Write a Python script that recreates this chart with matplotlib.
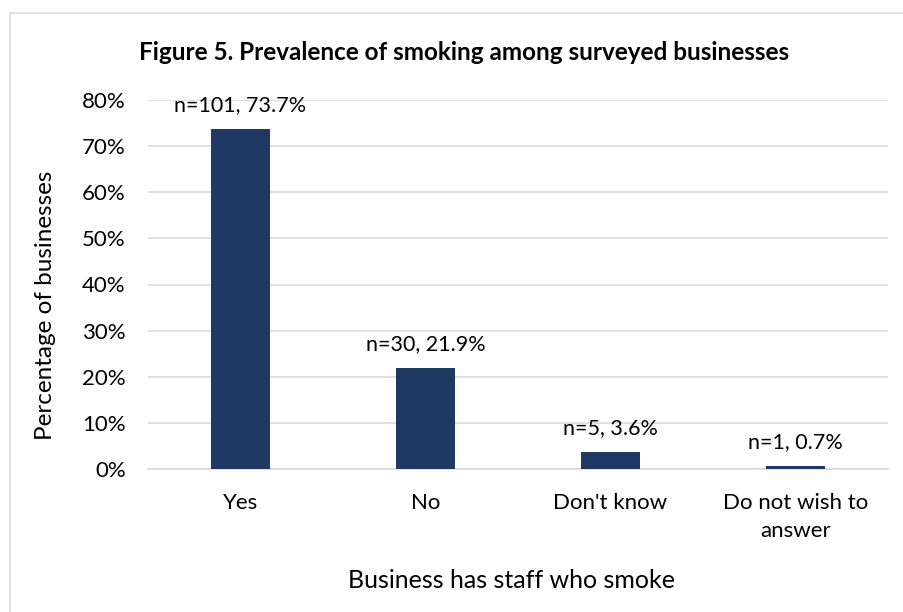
import matplotlib.pyplot as plt
from matplotlib.patches import Rectangle
from matplotlib.ticker import PercentFormatter

categories = ["Yes", "No", "Don't know", "Do not wish to\nanswer"]
percent = [73.7, 21.9, 3.6, 0.7]
counts = [101, 30, 5, 1]

plt.rcParams['font.family'] = ['Lato', 'DejaVu Sans']

fig = plt.figure(figsize=(9.04, 6.12), dpi=100)
W, H = 904, 612
ax = fig.add_axes([148 / W, 1 - 469 / H, 740 / W, 369 / H])

# light chart-area frame (only left/top visible in the crop)
fig.patches.append(Rectangle((10 / W, -0.1), 1.2, 1 - 13 / H + 0.1, transform=fig.transFigure,
                             fill=False, edgecolor='#d9d9d9', linewidth=1.2))

x = range(len(categories))
bars = ax.bar(x, percent, width=0.32, color='#203864', zorder=3)

for b, n, p in zip(bars, counts, percent):
    ax.annotate(f"n={n}, {p}%", (b.get_x() + b.get_width() / 2, b.get_height()),
                xytext=(0, 10), textcoords='offset points', ha='center', va='bottom', fontsize=15.5)

ax.set_xlim(-0.5, 3.5)
ax.set_ylim(0, 80)
ax.set_yticks(range(0, 81, 10))
ax.yaxis.set_major_formatter(PercentFormatter(decimals=0))
ax.set_xticks(list(x))
ax.set_xticklabels(categories, fontsize=16, linespacing=1.5)
ax.tick_params(axis='y', labelsize=16, length=0, pad=16)
ax.tick_params(axis='x', length=0, pad=17)
ax.grid(axis='y', color='#d9d9d9', linewidth=1.2, zorder=0)
for s in ['top', 'right', 'left']:
    ax.spines[s].set_visible(False)
ax.spines['bottom'].set_color('#d9d9d9')
ax.spines['bottom'].set_linewidth(1.2)

fig.text(464 / W, 1 - 52 / H, "Figure 5. Prevalence of smoking among surveyed businesses",
         ha='center', va='center', fontsize=17.5, fontweight='bold')
fig.text(512 / W, 1 - 580 / H, "Business has staff who smoke", ha='center', va='center', fontsize=18)
fig.text(46 / W, 1 - 305 / H, "Percentage of businesses", ha='center', va='center',
         rotation=90, fontsize=17.5)

fig.savefig("out.png", dpi=100, facecolor='white')
